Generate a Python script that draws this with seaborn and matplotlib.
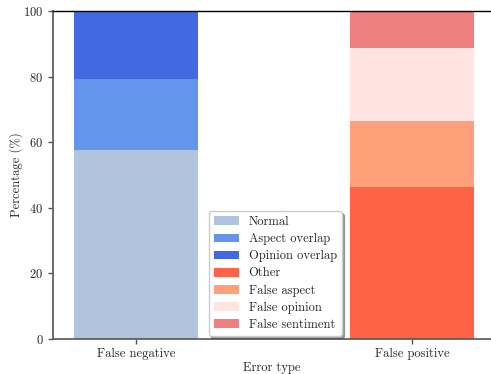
import matplotlib
matplotlib.use("Agg")
import matplotlib.pyplot as plt
import seaborn as sns
import pandas as pd
import numpy as np

categories = ["False negative", "False positive"]
fn_labels = ["Normal", "Aspect overlap", "Opinion overlap"]
fn_values = [57.5, 21.7, 20.8]
fp_labels = ["Other", "False aspect", "False opinion", "False sentiment"]
fp_values = [46.3, 20.1, 22.2, 11.4]
fn_colors = ["#B0C4DE", "#6495ED", "#4169E1"]
fp_colors = ["#FF6347", "#FFA07A", "#FFE4E1", "#F08080"]

sns.set_style("ticks")
plt.rcParams["font.family"] = ["cmr10", "DejaVu Serif"]
plt.rcParams["axes.formatter.use_mathtext"] = True
plt.rcParams["mathtext.fontset"] = "cm"

fig = plt.figure(figsize=(4.91, 3.74), dpi=100)
ax = fig.add_axes([53/491, 35/374, (491-53)/491, 328/374])

for cat, labels, values, colors in [(categories[0], fn_labels, fn_values, fn_colors),
                                    (categories[1], fp_labels, fp_values, fp_colors)]:
    cums = np.cumsum(values)
    for lab, cum, col in reversed(list(zip(labels, cums, colors))):
        df = pd.DataFrame({"cat": [cat], "val": [cum]})
        sns.barplot(data=df, x="cat", y="val", order=categories, color=col,
                    width=0.45, saturation=1, ax=ax, label=lab, edgecolor="none",
                    linewidth=0)

h, l = ax.get_legend_handles_labels()
hd = dict(zip(l, h))
order = fn_labels + fp_labels
leg = ax.legend([hd[k] for k in order], order, loc="lower center",
                bbox_to_anchor=(0.507, 0.0), fontsize=9, shadow=True,
                fancybox=True, framealpha=1, edgecolor="#cccccc",
                borderaxespad=0.25, handlelength=2.0, handleheight=0.7,
                handletextpad=0.8, labelspacing=0.4)

ax.set_ylim(0, 100)
ax.set_xlim(-0.3, (491-136)/276)
ax.set_yticks([0, 20, 40, 60, 80, 100])
ax.set_xlabel("Error type", fontsize=9, labelpad=1)
ax.set_ylabel("Percentage (%)", fontsize=9, labelpad=0)
ax.tick_params(axis="both", labelsize=9, length=3.5, width=1, color="#555555")
ax.tick_params(axis="x", pad=3)
for s in ["left", "bottom"]:
    ax.spines[s].set_color("#555555")
    ax.spines[s].set_linewidth(1.2)
ax.spines["right"].set_visible(False)
ax.spines["top"].set_color("black")
ax.spines["top"].set_linewidth(1.0)

fig.savefig("out.png", dpi=100)
